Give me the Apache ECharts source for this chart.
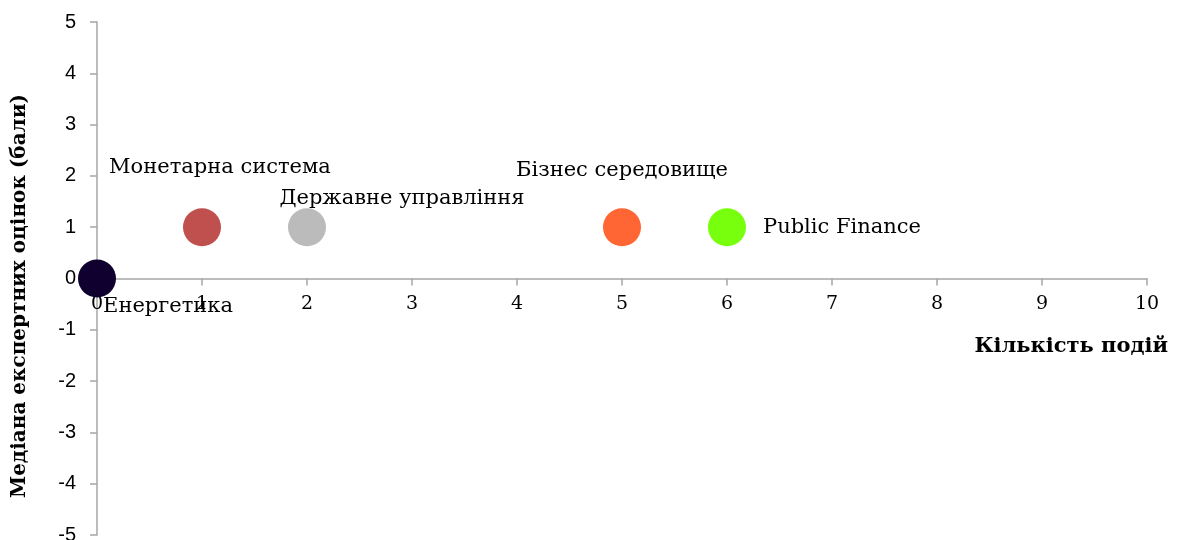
<!DOCTYPE html>
<html><head><meta charset="utf-8">
<script src="https://cdn.jsdelivr.net/npm/echarts@6/dist/echarts.min.js"></script>
<style>html,body{margin:0;padding:0;background:#fff}#c{width:1178px;height:540px}</style>
</head><body><div id="c"></div>
<script>
const names = ['Енергетика', 'Монетарна система', 'Державне управління', 'Бізнес середовище', 'Public Finance'];
const eventCounts = [0, 1, 2, 5, 6];
const medianScores = [0, 1, 1, 1, 1];
const xTicks = [0, 1, 2, 3, 4, 5, 6, 7, 8, 9, 10];
const yTicks = [-5, -4, -3, -2, -1, 0, 1, 2, 3, 4, 5];
const xTitle = 'Кількість подій';
const yTitle = 'Медіана експертних оцінок (бали)';

const colors = ['#10002F', '#C0504D', '#BBBBBB', '#FF6633', '#77FF0D'];
const labelStyles = [
  {position: 'inside', offset: [71, 28]},
  {position: 'inside', offset: [18, -60]},
  {position: 'inside', offset: [95, -29]},
  {position: 'inside', offset: [0, -57]},
  {position: 'right', distance: 17}
];
const serif = '"DejaVu Serif", Georgia, serif';
const gridTop = 22, gridBottom = 5, H = 540;
const plotH = H - gridTop - gridBottom;
const zeroFromBottom = plotH * (0 - yTicks[0]) / (yTicks[yTicks.length - 1] - yTicks[0]);
const chart = echarts.init(document.getElementById('c'));
const data = names.map((n, i) => ({
  name: n,
  value: [eventCounts[i], medianScores[i]],
  itemStyle: {color: colors[i], opacity: 1},
  label: Object.assign({show: true, formatter: '{b}', color: '#000', fontFamily: serif, fontSize: 21}, labelStyles[i])
}));
chart.setOption({
  animation: false,
  grid: {left: 97, right: 31, top: gridTop, bottom: gridBottom, containLabel: false, outerBoundsMode: 'none'},
  xAxis: {
    type: 'value', min: xTicks[0], max: xTicks[xTicks.length - 1], interval: 1,
    position: 'bottom', offset: -zeroFromBottom,
    axisLine: {onZero: false, lineStyle: {color: '#A6A6A6', width: 1.5}},
    axisTick: {show: true, length: 7, lineStyle: {color: '#A6A6A6', width: 1.5}},
    splitLine: {show: false},
    axisLabel: {margin: 16, color: '#000', fontFamily: serif, fontSize: 19}
  },
  yAxis: {
    type: 'value', min: yTicks[0], max: yTicks[yTicks.length - 1], interval: 1,
    axisLine: {onZero: false, lineStyle: {color: '#A6A6A6', width: 1.5}},
    axisTick: {show: true, length: 7, lineStyle: {color: '#A6A6A6', width: 1.5}},
    splitLine: {show: false},
    axisLabel: {margin: 21, color: '#000', fontFamily: '"Liberation Sans", Arial, sans-serif', fontSize: 20}
  },
  graphic: [
    {type: 'text', right: 10, top: 336, style: {text: xTitle, font: 'bold 21px ' + serif, fill: '#000'}},
    {type: 'text', x: 20, y: 296, rotation: Math.PI / 2, style: {text: yTitle, font: 'bold 20px ' + serif, fill: '#000', align: 'center', verticalAlign: 'middle'}}
  ],
  series: [{
    type: 'scatter', symbol: 'circle', symbolSize: 38, data: data, z: 3
  }]
});
</script></body></html>
